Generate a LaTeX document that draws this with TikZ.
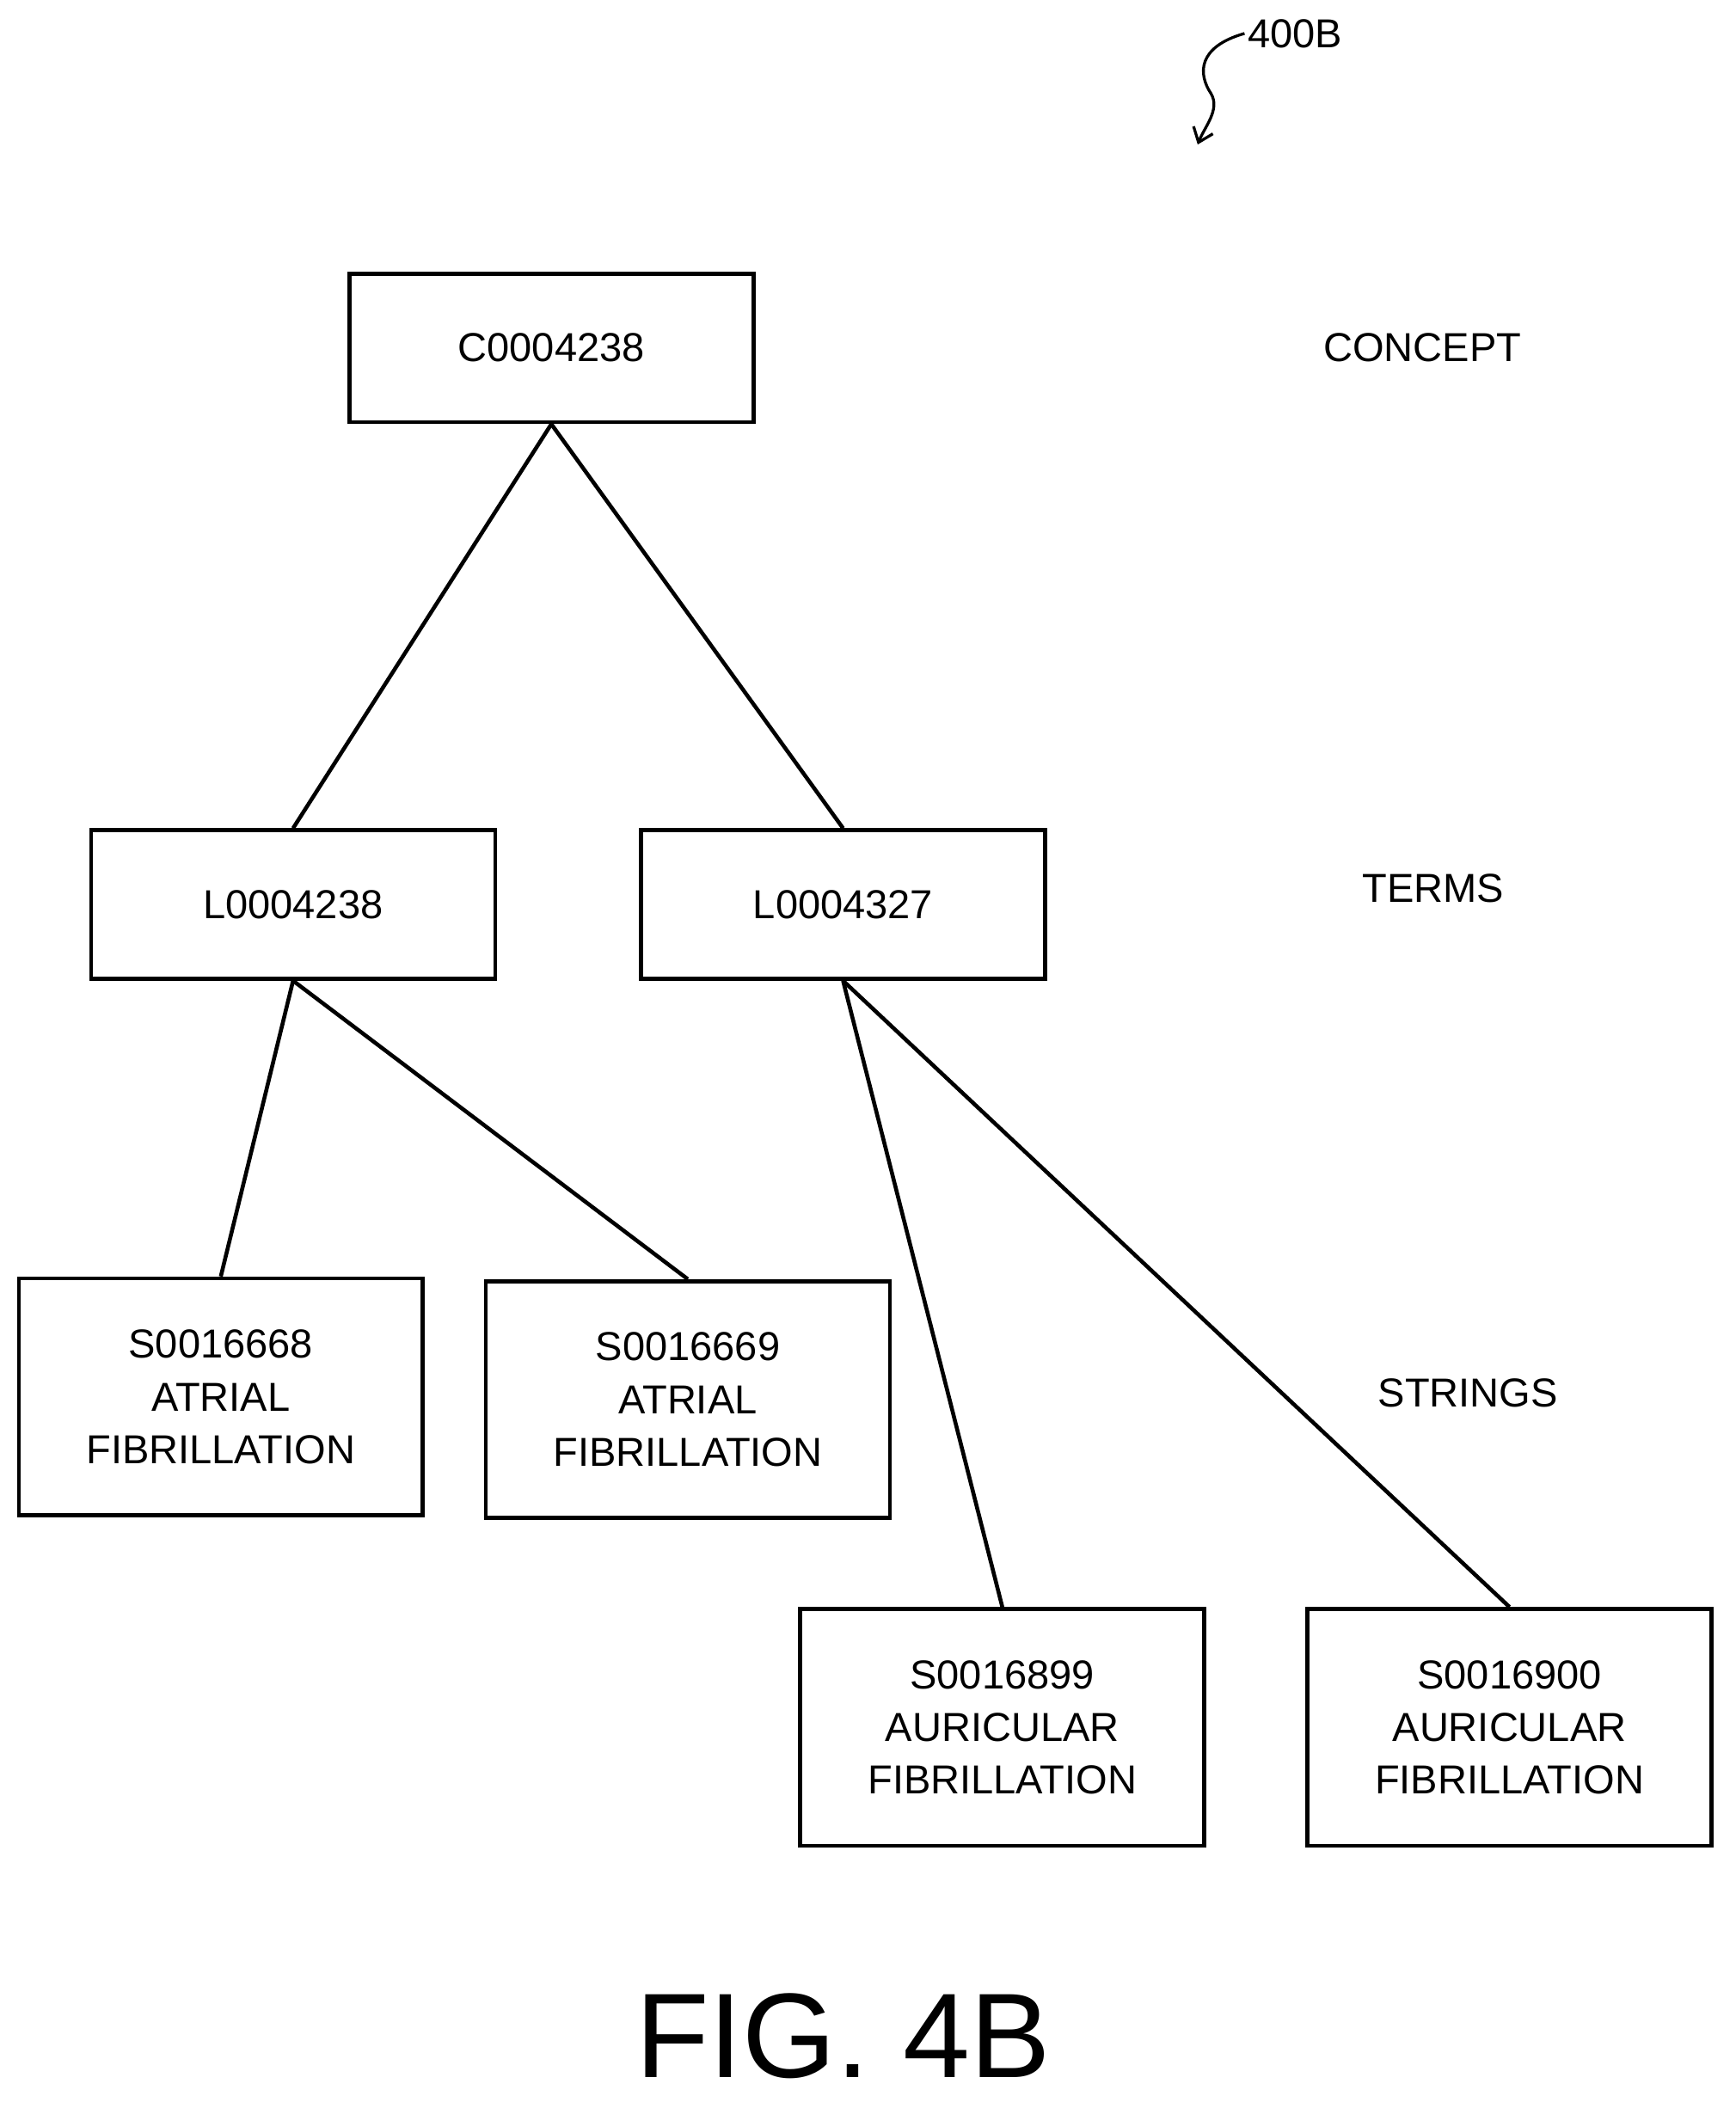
\documentclass[tikz,border=0pt]{standalone}
\usepackage{fontspec}
\setmainfont{Liberation Sans}
\usetikzlibrary{arrows.meta}
\begin{document}
\begin{tikzpicture}[x=0.05cm,y=-0.05cm,
  box/.style={draw,line width=4.2pt,minimum width=15.1cm,inner sep=0pt,align=center,font=\fontsize{43}{56}\selectfont},
  lab/.style={font=\fontsize{43}{52}\selectfont},
  con/.style={line width=4.2pt}]
\useasboundingbox (0,0) rectangle (1297,1571);
\node[box,minimum height=5.55cm] (c) at (412,260) {C0004238};
\node[box,minimum height=5.55cm] (l1) at (219,676) {L0004238};
\node[box,minimum height=5.55cm] (l2) at (630,676) {L0004327};
\node[box,minimum height=8.85cm] (s1) at (165,1044) {S0016668\\ATRIAL\\FIBRILLATION};
\node[box,minimum height=8.85cm] (s2) at (514,1046) {S0016669\\ATRIAL\\FIBRILLATION};
\node[box,minimum height=8.85cm] (s3) at (749,1291) {S0016899\\AURICULAR\\FIBRILLATION};
\node[box,minimum height=8.85cm] (s4) at (1128,1291) {S0016900\\AURICULAR\\FIBRILLATION};
\draw[con] (c.south) -- (l1.north);
\draw[con] (c.south) -- (l2.north);
\draw[con] (l1.south) -- (s1.north);
\draw[con] (l1.south) -- (s2.north);
\draw[con] (l2.south) -- (s3.north);
\draw[con] (l2.south) -- (s4.north);
\node[lab] (concept) at (1063,260) {CONCEPT};
\node[lab] (terms) at (1071,664) {TERMS};
\node[lab] (strings) at (1097,1041) {STRINGS};
\node[lab,anchor=west] (ref) at (930,25) {400B};
\coordinate (tip) at (895,108);
\draw[line width=3pt,-{Straight Barb[length=14pt,width=22pt]}] (ref.west) .. controls (895,35) and (895,55) .. (905,70) .. controls (912,82) and (900,95) .. (tip);
\node[font=\fontsize{128}{140}\selectfont] (fig) at (630,1522) {FIG. 4B};
\end{tikzpicture}
\end{document}
